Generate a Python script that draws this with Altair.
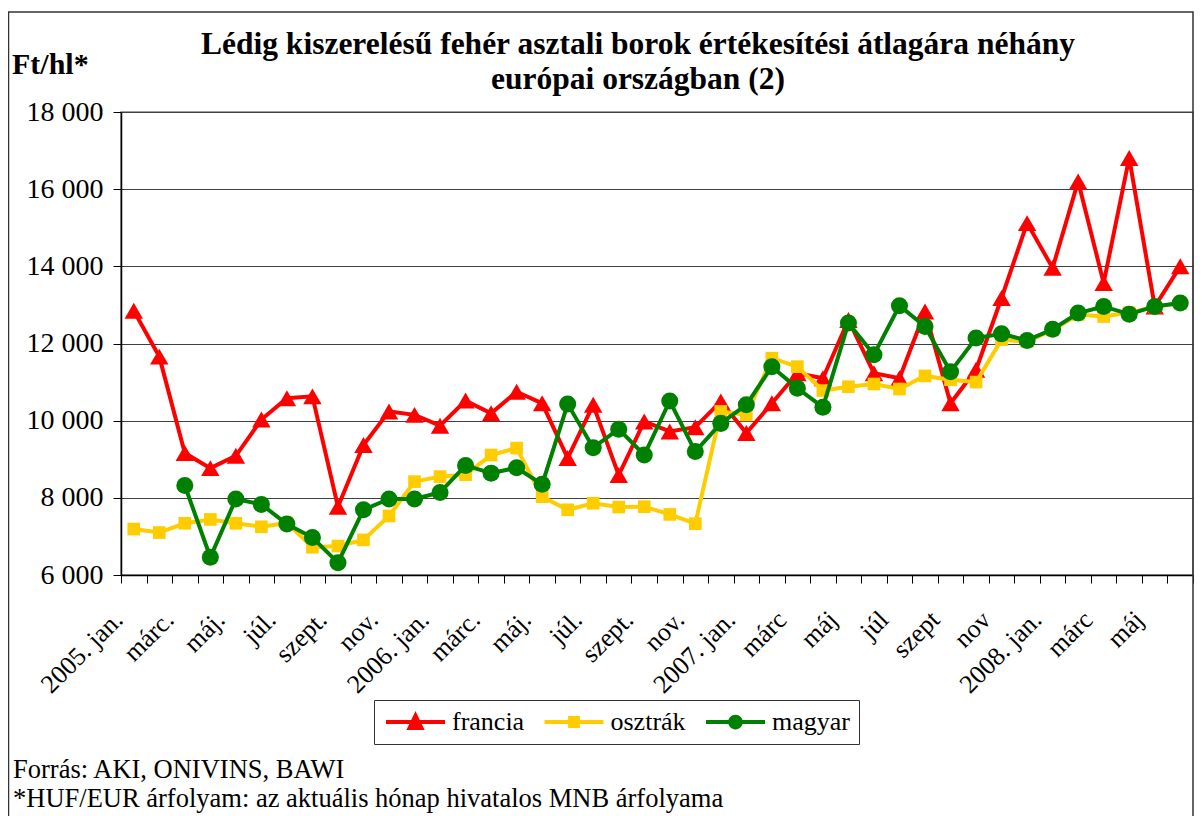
import json
import altair as alt
import pandas as pd

# ---------------- data ----------------
series_names = ["francia", "osztrák", "magyar"]
series_colors = ["#FF0000", "#FFCC00", "#008000"]

tick_labels = ["2005. jan.", "márc.", "máj.", "júl.", "szept.", "nov.",
               "2006. jan.", "márc.", "máj.", "júl.", "szept.", "nov.",
               "2007. jan.", "márc", "máj", "júl", "szept", "nov",
               "2008. jan.", "márc", "máj"]

francia = [12850, 11660, 9160, 8770, 9090, 10030, 10580, 10630, 7770, 9370,
           10240, 10150, 9870, 10520, 10190, 10750, 10450, 9030, 10410, 8590,
           9980, 9720, 9830, 10500, 9680, 10450, 11230, 11100, 12610, 11230,
           11100, 12830, 10450, 11320, 13180, 15120, 13960, 16200, 13570, 16810,
           12960, 14000]

osztrak = [7190, 7100, 7340, 7440, 7340, 7250, 7350, 6720, 6750, 6910,
           7530, 8420, 8550, 8600, 9110, 9290, 8030, 7690, 7860, 7760,
           7770, 7570, 7330, 10240, 10150, 11620, 11400, 10780, 10880, 10950,
           10820, 11160, 11060, 11000, 12100, 12050, 12350, 12750, 12700, 12800,
           12950, 13050]

magyar = [None, None, 8320, 6460, 7970, 7830, 7320, 6970, 6320, 7690,
          7970, 7970, 8140, 8840, 8640, 8780, 8350, 10430, 9300, 9780,
          9110, 10510, 9200, 9930, 10410, 11400, 10840, 10350, 12530, 11710,
          12980, 12440, 11270, 12140, 12250, 12080, 12370, 12790, 12960, 12760,
          12960, 13050]

n = len(francia)
rows = []
for name, vals in zip(series_names, [francia, osztrak, magyar]):
    for i, v in enumerate(vals):
        if v is not None:
            rows.append({"idx": i, "series": name, "value": v})
df = pd.DataFrame(rows)

# label per month index (only every other month is labelled)
month_labels = []
for i in range(n):
    month_labels.append(tick_labels[i // 2] if i % 2 == 0 else "")

FONT = "Liberation Serif"

x_enc = alt.X(
    "idx:O",
    bandPosition=0.5,
    scale=alt.Scale(type="band", paddingInner=0, paddingOuter=0),
    axis=alt.Axis(
        title=None, grid=False, tickBand="extent", tickSize=8, tickColor="black",
        domainColor="black", domainWidth=1.5,
        labelExpr=json.dumps(month_labels, ensure_ascii=False) + "[datum.value]",
        labelAngle=-45, labelAlign="right", labelBaseline="alphabetic",
        labelOffset=-10, labelPadding=38, labelOverlap=False, labelBound=False,
        labelFont=FONT, labelFontSize=26, labelColor="black",
    ),
)
y_enc = alt.Y(
    "value:Q",
    scale=alt.Scale(domain=[6000, 18000], nice=False, zero=False),
    axis=alt.Axis(
        title=None, values=list(range(6000, 18001, 2000)), tickSize=8,
        tickColor="black", domainColor="black", domainWidth=1.5,
        gridColor="#404040", gridWidth=1, labelPadding=10,
        labelExpr="replace(format(datum.value, ','), ',', ' ')",
        labelFont=FONT, labelFontSize=28, labelColor="black",
    ),
)

base = alt.Chart(df)

shapes = ["triangle-up", "square", "circle"]
sizes = [340, 160, 290]
layers = []
for name, col, shp, sz in zip(series_names, series_colors, shapes, sizes):
    sub = base.transform_filter(alt.datum.series == name)
    layers.append(sub.mark_line(color=col, strokeWidth=4).encode(x=x_enc, y=y_enc))
    layers.append(sub.mark_point(color=col, shape=shp, size=sz, filled=True, opacity=1)
                  .encode(x=x_enc, y=y_enc))

# legend (line with marker symbols), path units = 29.5 px
line_part = "M-1,-0.07H1V0.07H-1Z"
legend_paths = [
    line_part + "M0,-0.37L0.31,0.27H-0.31Z",
    line_part + "M-0.2,-0.2H0.2V0.2H-0.2Z",
    line_part + "M0.25,0A0.25,0.25 0 1,1 -0.25,0A0.25,0.25 0 1,1 0.25,0Z",
]
leg = alt.Legend(
    title=None, orient="none", legendX=253, legendY=588, direction="horizontal",
    fillColor="white", strokeColor="#333333", padding=9,
    symbolSize=3481, symbolOpacity=1, symbolStrokeWidth=0, symbolOffset=3,
    clipHeight=26, labelOffset=7, columnPadding=16.5,
    labelFont=FONT, labelFontSize=26, labelColor="black",
)
legend_layer = base.mark_point(filled=True, opacity=0).encode(
    x=x_enc, y=y_enc,
    color=alt.Color("series:N", scale=alt.Scale(domain=series_names, range=series_colors), legend=leg),
    shape=alt.Shape("series:N", scale=alt.Scale(domain=series_names, range=legend_paths), legend=leg),
)


def txt(text, x, y, size, bold=False, align="left", baseline="middle"):
    return alt.Chart(pd.DataFrame({"t": [text]})).mark_text(
        align=align, baseline=baseline, font=FONT, fontSize=size,
        fontWeight="bold" if bold else "normal", color="black",
    ).encode(x=alt.value(x), y=alt.value(y), text="t:N")


border = alt.Chart(pd.DataFrame({"a": [0]})).mark_rect(
    fillOpacity=0, stroke="#333333", strokeWidth=1.5
).encode(x=alt.value(-112.5), x2=alt.value(1072), y=alt.value(-100), y2=alt.value(720))

texts = [
    txt("Lédig kiszerelésű fehér asztali borok értékesítési átlagára néhány", 517, -67, 31.5, bold=True, align="center"),
    txt("európai országban (2)", 517, -32, 31.5, bold=True, align="center"),
    txt("Ft/hl*", -109, -47, 30, bold=True),
    txt("Forrás: AKI, ONIVINS, BAWI", -108, 666, 26.5, baseline="alphabetic"),
    txt("*HUF/EUR árfolyam: az aktuális hónap hivatalos MNB árfolyama", -108, 695, 26.5, baseline="alphabetic"),
]

chart = alt.layer(border, *layers, legend_layer, *texts).properties(
    width=1072, height=463,
    padding={"left": 113, "top": 104, "right": 1, "bottom": 241},
    autosize=alt.AutoSizeParams(type="none"),
    background="white",
).configure_view(stroke="#808080", strokeWidth=1.5)

chart.save("out.html", embed_options={"renderer": "svg", "actions": False})
